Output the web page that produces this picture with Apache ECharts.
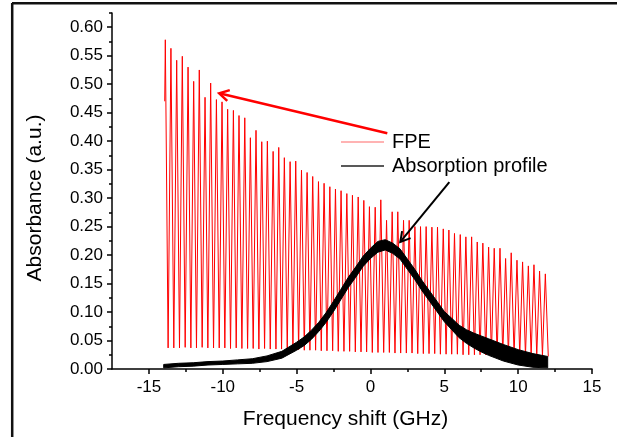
<!DOCTYPE html>
<html><head><meta charset="utf-8">
<script src="https://cdn.jsdelivr.net/npm/echarts@6/dist/echarts.min.js"></script>
<style>html,body{margin:0;padding:0;background:#fff}#c{width:617px;height:437px}</style>
</head><body><div id="c"></div>
<script>
// ---- FPE comb (peaks and valleys) ----
const peakX = [-13.89,-13.51,-13.12,-12.74,-12.35,-11.97,-11.59,-11.20,-10.82,-10.43,
  -10.05,-9.67,-9.28,-8.90,-8.51,-8.13,-7.75,-7.36,-6.98,-6.59,
  -6.21,-5.83,-5.44,-5.06,-4.67,-4.29,-3.91,-3.52,-3.14,-2.75,
  -2.37,-1.99,-1.60,-1.22,-0.83,-0.45,-0.07,0.32,0.70,1.09,
  1.47,1.85,2.24,2.62,3.01,3.39,3.77,4.16,4.54,4.93,
  5.31,5.69,6.08,6.46,6.85,7.23,7.61,8.00,8.38,8.77,
  9.15,9.53,9.92,10.30,10.69,11.07,11.45,11.84];
const peakY = [0.578,0.563,0.542,0.549,0.530,0.505,0.525,0.477,0.502,0.473,
  0.469,0.456,0.454,0.445,0.441,0.406,0.419,0.399,0.400,0.382,
  0.389,0.371,0.364,0.365,0.349,0.345,0.338,0.329,0.326,0.320,
  0.316,0.313,0.308,0.305,0.302,0.296,0.285,0.284,0.297,0.261,
  0.276,0.276,0.261,0.261,0.250,0.250,0.250,0.249,0.249,0.246,
  0.244,0.238,0.236,0.232,0.232,0.223,0.221,0.214,0.212,0.212,
  0.194,0.204,0.191,0.188,0.181,0.183,0.172,0.167];
const valleyY = [0.037,0.037,0.037,0.038,0.037,0.037,0.038,0.037,0.037,0.037,
  0.037,0.036,0.037,0.036,0.036,0.036,0.035,0.036,0.035,0.035,
  0.035,0.034,0.034,0.034,0.033,0.033,0.033,0.032,0.032,0.032,
  0.031,0.031,0.031,0.030,0.030,0.030,0.029,0.029,0.029,0.029,
  0.028,0.028,0.028,0.028,0.027,0.027,0.027,0.027,0.026,0.026,
  0.026,0.026,0.025,0.025,0.025,0.025,0.025,0.024,0.024,0.024,
  0.024,0.024,0.023,0.023,0.023,0.023,0.023];
const fpeStart = [-13.93, 0.47];
const fpeEnd = [12.04, 0.022];

// ---- Absorption profile (noisy band: lower / upper edges) ----
const absX = [-14,-13,-12,-11,-10,-9,-8,-7,-6,-5,-4.5,-4,-3.5,-3,-2.5,-2,-1.5,-1,-0.5,0,
  0.5,1,1.5,2,2.5,3,3.5,4,4.5,5,5.5,6,6.5,7,7.5,8,9,10,11,12];
const absLower = [0.002,0.004,0.005,0.007,0.008,0.009,0.010,0.013,0.019,0.033,0.041,0.052,0.066,0.082,0.101,0.122,0.143,0.161,0.180,0.194,
  0.205,0.209,0.203,0.193,0.175,0.157,0.137,0.119,0.101,0.083,0.069,0.055,0.045,0.037,0.030,0.024,0.014,0.007,0.003,0.002];
const absUpper = [0.008,0.010,0.011,0.013,0.014,0.016,0.018,0.023,0.031,0.047,0.056,0.068,0.082,0.099,0.119,0.140,0.161,0.179,0.198,0.212,
  0.224,0.227,0.221,0.211,0.193,0.175,0.155,0.137,0.119,0.101,0.089,0.077,0.069,0.063,0.058,0.053,0.043,0.034,0.027,0.022];

// ---- Ticks ----
const xMajorTicks = [-15,-10,-5,0,5,10,15];
const xMinorTicks = [-12.5,-7.5,-2.5,2.5,7.5,12.5];
const yMajorTicks = [0,0.05,0.1,0.15,0.2,0.25,0.3,0.35,0.4,0.45,0.5,0.55,0.6];
const yMinorTicks = [0.025,0.075,0.125,0.175,0.225,0.275,0.325,0.375,0.425,0.475,0.525,0.575,0.625];

const FONT = '"Liberation Sans", Arial, sans-serif';

const fpeData = [fpeStart];
for (let k = 0; k < peakX.length; k++) {
  fpeData.push([peakX[k], peakY[k]]);
  if (k < peakX.length - 1) fpeData.push([(peakX[k] + peakX[k+1]) / 2, valleyY[k]]);
}
fpeData.push(fpeEnd);

const chart = echarts.init(document.getElementById('c'), null, {renderer: 'canvas'});
const axisCommonX = {type:'value', min:-17.5, max:15, interval:2.5, splitLine:{show:false}};
const axisCommonY = {type:'value', min:0, max:0.625, interval:0.05, splitLine:{show:false}};
chart.setOption({
  animation: false,
  backgroundColor: '#fff',
  grid: {left:112, right:25, top:13, bottom:68, containLabel:false},
  legend: {
    orient:'vertical', left:341, top:132, padding:0, itemWidth:43, itemHeight:1.5, itemGap:4,
    icon:'rect',
    textStyle:{fontSize:20, lineHeight:20, color:'#000', fontFamily:FONT, padding:[0,0,0,3]},
    data:[{name:'FPE', itemStyle:{color:'#ff9a9a'}}, {name:'Absorption profile', itemStyle:{color:'#222'}}]
  },
  xAxis: [
    Object.assign({}, axisCommonX, {
      position:'bottom',
      axisLine:{onZero:false, lineStyle:{color:'#000', width:1.5}},
      axisTick:{customValues:xMajorTicks, length:5, lineStyle:{color:'#000', width:1.5}},
      axisLabel:{customValues:xMajorTicks, fontSize:17, color:'#000', fontFamily:FONT, margin:10},
      name:'Frequency shift (GHz)', nameLocation:'middle', nameGap:40,
      nameTextStyle:{fontSize:21, color:'#000', fontFamily:FONT, padding:[0,13,0,0]}
    }),
    Object.assign({}, axisCommonX, {
      position:'bottom',
      axisLine:{show:false, onZero:false},
      axisTick:{customValues:xMinorTicks, length:3, lineStyle:{color:'#000', width:1.5}},
      axisLabel:{show:false}
    })
  ],
  yAxis: [
    Object.assign({}, axisCommonY, {
      position:'left',
      axisLine:{show:true, onZero:false, lineStyle:{color:'#000', width:1.5}},
      axisTick:{show:true, customValues:yMajorTicks, length:5, lineStyle:{color:'#000', width:1.5}},
      axisLabel:{customValues:yMajorTicks, fontSize:17, color:'#000', fontFamily:FONT, margin:9,
        formatter: v => Number(v).toFixed(2)},
      name:'Absorbance (a.u.)', nameLocation:'middle', nameGap:66,
      nameTextStyle:{fontSize:21, color:'#000', fontFamily:FONT, padding:[0,14,0,0]}
    }),
    Object.assign({}, axisCommonY, {
      position:'left',
      axisLine:{show:false, onZero:false},
      axisTick:{show:true, customValues:yMinorTicks, length:3, lineStyle:{color:'#000', width:1.5}},
      axisLabel:{show:false}
    })
  ],
  series: [
    {
      name:'FPE', type:'line', data:fpeData, symbol:'none', showSymbol:false,
      lineStyle:{color:'#ff0000', width:1}, itemStyle:{color:'#ff0000'}, z:2, silent:true
    },
    {
      name:'absBand', type:'custom', coordinateSystem:'cartesian2d', z:3, silent:true,
      data: absX.map((x, i) => [x, absLower[i], absUpper[i]]),
      encode:{x:0, y:[1,2]},
      renderItem: function (params, api) {
        if (params.dataIndex !== 0) return null;
        const pts = [];
        for (let i = 0; i < absX.length; i++) pts.push(api.coord([absX[i], absUpper[i]]));
        for (let i = absX.length - 1; i >= 0; i--) pts.push(api.coord([absX[i], absLower[i]]));
        return {type:'polygon', shape:{points:pts}, style:{fill:'#000', stroke:'#000', lineWidth:1}};
      }
    },
    {
      name:'Absorption profile', type:'line', data:[], symbol:'none',
      lineStyle:{color:'#000', width:1.2}, itemStyle:{color:'#000'}
    }
  ]
});

// ---- Annotation arrows (positioned in data coordinates) ----
const redArrow = {from:[1.14, 0.414], to:[-10.24, 0.484], color:'#ff0000', width:2.5};
const blackArrow = {from:[5.34, 0.328], to:[2.02, 0.223], color:'#000', width:2};
function arrowEls(a) {
  const p0 = chart.convertToPixel({gridIndex:0}, a.from);
  const p1 = chart.convertToPixel({gridIndex:0}, a.to);
  const dx = p1[0]-p0[0], dy = p1[1]-p0[1];
  const len = Math.hypot(dx, dy), ux = dx/len, uy = dy/len;
  const L = 11, ang = 30 * Math.PI / 180;
  const rot = (x, y, t) => [x*Math.cos(t) - y*Math.sin(t), x*Math.sin(t) + y*Math.cos(t)];
  const r1 = rot(ux, uy, ang), r2 = rot(ux, uy, -ang);
  return [
    {type:'line', shape:{x1:p0[0], y1:p0[1], x2:p1[0], y2:p1[1]}, style:{stroke:a.color, lineWidth:a.width}, z:10},
    {type:'polyline', shape:{points:[[p1[0]-L*r1[0], p1[1]-L*r1[1]], p1, [p1[0]-L*r2[0], p1[1]-L*r2[1]]]},
      style:{stroke:a.color, lineWidth:a.width, fill:null}, z:10}
  ];
}
chart.setOption({
  graphic: [
    {type:'line', shape:{x1:12, y1:3.3, x2:617, y2:3.3}, style:{stroke:'#111', lineWidth:2.5}, z:20},
    {type:'line', shape:{x1:12.2, y1:3, x2:12.2, y2:437}, style:{stroke:'#111', lineWidth:2.5}, z:20}
  ].concat(arrowEls(redArrow), arrowEls(blackArrow))
});
</script>
</body></html>
